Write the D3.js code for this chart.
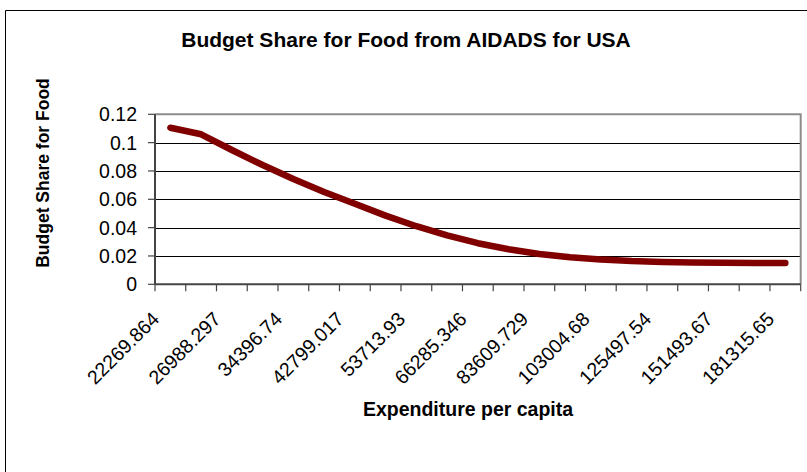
<!DOCTYPE html>
<html>
<head>
<meta charset="utf-8">
<script src="https://cdn.jsdelivr.net/npm/d3@7"></script>
<style>
html,body{margin:0;padding:0;background:#fff;}
svg{display:block;}
text{font-family:"Liberation Sans",Arial,sans-serif;fill:#000;}
</style>
</head>
<body>
<svg id="chart" width="807" height="472"></svg>
<script>
// ---- data ----
const categories = d3.range(21); // 21 expenditure levels (every other one labelled)
const tickLabels = ["22269.864","26988.297","34396.74","42799.017","53713.93","66285.346",
                    "83609.729","103004.68","125497.54","151493.67","181315.65"];
const budgetShare = [0.1105,0.1059,0.0948,0.0842,0.0743,0.0652,0.0568,0.0485,0.0410,0.0345,
                     0.0290,0.0247,0.0214,0.0191,0.0175,0.0164,0.0158,0.0154,0.0152,0.0151,0.0150];
const yTicks = [0,0.02,0.04,0.06,0.08,0.1,0.12];
const titleText = "Budget Share for Food from AIDADS for USA";
const xTitle = "Expenditure per capita";
const yTitle = "Budget Share for Food";

const svg = d3.select("#chart");
const W = 807, H = 472;
const plot = {left:155, right:800.7, top:114.3, bottom:284.3};

// outer chart frame
svg.append("path").attr("d",`M5.5,${H} V10.5 H${W}`)
  .attr("fill","none").attr("stroke","#000").attr("stroke-width",1);

const x = d3.scaleBand().domain(categories).range([plot.left, plot.right]).padding(0);
const y = d3.scaleLinear().domain([0,0.12]).range([plot.bottom, plot.top]);

// gridlines
svg.append("g").selectAll("line").data(yTicks.filter(d=>d>0 && d<0.12)).join("line")
  .attr("x1",plot.left).attr("x2",plot.right)
  .attr("y1",d=>Math.round(y(d))+0.5).attr("y2",d=>Math.round(y(d))+0.5)
  .attr("stroke","#000").attr("stroke-width",1);

// plot border top/right
svg.append("path")
  .attr("d",`M${plot.left},${y(0.12)} H${plot.right} V${plot.bottom}`)
  .attr("fill","none").attr("stroke","#8c8c8c").attr("stroke-width",2);

// y axis (ticks from the scale)
const gy = svg.append("g");
gy.append("line").attr("x1",plot.left).attr("x2",plot.left)
  .attr("y1",y(0)).attr("y2",y(0.12)).attr("stroke","#444").attr("stroke-width",2);
gy.selectAll("line.tk").data(yTicks).join("line").attr("class","tk")
  .attr("x1",plot.left-7).attr("x2",plot.left)
  .attr("y1",d=>y(d)).attr("y2",d=>y(d)).attr("stroke","#444").attr("stroke-width",1.2);
gy.selectAll("text").data(yTicks).join("text")
  .attr("text-anchor","end").attr("font-size",19.5).attr("dy","0.36em")
  .attr("x",plot.left-18).attr("y",d=>y(d))
  .text(d=>String(+d.toFixed(2)));

// x axis: ticks at category boundaries
const boundaries = d3.range(categories.length+1).map(i=>plot.left + i*x.step());
const gx = svg.append("g");
gx.append("line").attr("x1",plot.left).attr("x2",plot.right)
  .attr("y1",plot.bottom).attr("y2",plot.bottom)
  .attr("stroke","#444").attr("stroke-width",2);
gx.selectAll("line.tk").data(boundaries).join("line").attr("class","tk")
  .attr("x1",d=>d).attr("x2",d=>d).attr("y1",plot.bottom).attr("y2",plot.bottom+7)
  .attr("stroke","#444").attr("stroke-width",1.2);
gx.selectAll("text.lbl").data(tickLabels).join("text").attr("class","lbl")
  .attr("text-anchor","end").attr("font-size",19.5)
  .attr("transform",(d,i)=>{
     const cx = x(categories[i*2]) + x.bandwidth()/2;
     return `translate(${cx-10},${plot.bottom+36}) rotate(-45)`;
  })
  .text(d=>d);

// line (straight segments between the 21 points)
const line = d3.line()
  .x((d,i)=>x(categories[i]) + x.bandwidth()/2)
  .y(d=>y(d));
svg.append("path").datum(budgetShare).attr("d",line)
  .attr("fill","none").attr("stroke","#800000").attr("stroke-width",6.5)
  .attr("stroke-linecap","round").attr("stroke-linejoin","round");

// titles
svg.append("text").attr("x",406).attr("y",47).attr("text-anchor","middle")
  .attr("font-size",21).attr("font-weight","bold").text(titleText);
svg.append("text").attr("x",468).attr("y",416).attr("text-anchor","middle")
  .attr("font-size",19.5).attr("font-weight","bold").text(xTitle);
svg.append("text").attr("transform",`translate(49,173) rotate(-90)`).attr("text-anchor","middle")
  .attr("font-size",17.5).attr("font-weight","bold").text(yTitle);
</script>
</body>
</html>
